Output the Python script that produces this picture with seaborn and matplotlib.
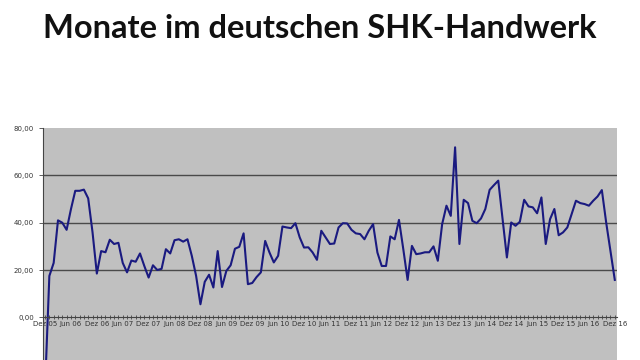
import numpy as np
import pandas as pd
import seaborn as sns
import matplotlib.pyplot as plt

# valeurs mensuelles (Dez 05 .. Dez 16)
werte = [-30, 17.5, 23, 41, 40, 37, 45.7, 53.5, 53.5, 54, 50.3, 36,
         18.5, 28, 27.5, 32.8, 31, 31.5, 23, 19, 24, 23.5, 27, 21.7,
         16.8, 22, 20, 20.5, 28.8, 27, 32.6, 33, 32, 33, 26, 17.5,
         5.5, 15, 18, 12.6, 28, 12.8, 19.6, 22, 29, 29.8, 35.5, 14,
         14.5, 17, 19, 32.3, 27.4, 23.2, 26, 38.4, 38, 37.7, 39.8, 33.8,
         29.5, 29.6, 27.4, 24.3, 36.6, 33.8, 31, 31.2, 38, 39.8, 39.7, 37,
         35.5, 35.2, 33, 36.6, 39.4, 27.4, 21.7, 21.7, 34.2, 33, 41.2, 28.8,
         15.8, 30.2, 26.7, 27, 27.5, 27.5, 30, 23.9, 39.4, 47.2, 42.9, 71.9,
         31, 49.7, 48.3, 40.8, 39.8, 41.8, 45.8, 53.9, 55.9, 57.8, 41.5, 25.3,
         40.1, 38.7, 40.4, 49.7, 46.9, 46.5, 44, 50.7, 31, 41.5, 45.8, 34.7,
         35.9, 38, 43.6, 49.3, 48.3, 47.9, 47.2, 49.3, 51.1, 53.8, 40.1, 28,
         15.8]

monate = list(range(len(werte)))
tick_pos = list(range(0, len(werte), 6))
tick_labels = ['Dez 05', 'Jun 06', 'Dez 06', 'Jun 07', 'Dez 07', 'Jun 08', 'Dez 08',
               'Jun 09', 'Dez 09', 'Jun 10', 'Dez 10', 'Jun 11', 'Dez 11', 'Jun 12',
               'Dez 12', 'Jun 13', 'Dez 13', 'Jun 14', 'Dez 14', 'Jun 15', 'Dez 15',
               'Jun 16', 'Dez 16']
y_ticks = [0, 20, 40, 60, 80]
y_labels = ['0,00', '20,00', '40,00', '60,00', '80,00']

df = pd.DataFrame({'monat': monate, 'wert': werte})

fig = plt.figure(figsize=(6.4, 3.6), dpi=100)
fig.patch.set_facecolor('white')
ax = fig.add_axes([0.067, -0.144, 0.897, 0.788])
ax.set_facecolor('#c0c0c0')

sns.lineplot(data=df, x='monat', y='wert', color='#1a1a80', linewidth=1.5, ax=ax)

ax.set_xlim(-0.5, len(werte) - 0.5)
ax.set_ylim(-40, 80)
ax.set_yticks(y_ticks)
ax.set_yticklabels(y_labels)
for y in [20, 40, 60]:
    ax.axhline(y, color='#4a4a4a', linewidth=1.0, zorder=0)

# axe des categories a la hauteur de 0
ax.set_xticks(tick_pos)
ax.set_xticklabels(tick_labels)
ax.set_xticks(monate, minor=True)
ax.spines['bottom'].set_position(('data', 0))
ax.spines['bottom'].set_color('#444444')
ax.spines['left'].set_color('#444444')
ax.spines['top'].set_visible(False)
ax.spines['right'].set_visible(False)
ax.tick_params(axis='x', which='both', direction='inout', length=3, width=0.6,
               colors='#444444', labelsize=5, pad=1, labelcolor='#333333')
ax.tick_params(axis='y', direction='out', length=3, width=0.6, colors='#444444',
               labelsize=5, labelcolor='#333333')
ax.set_xlabel('')
ax.set_ylabel('')

fig.text(0.5, 1 - 28 / 360, 'Monate im deutschen SHK-Handwerk', ha='center', va='center',
         fontsize=23.5, fontweight='bold', family='Lato', color='#111111')

fig.savefig('out.png', dpi=100)
